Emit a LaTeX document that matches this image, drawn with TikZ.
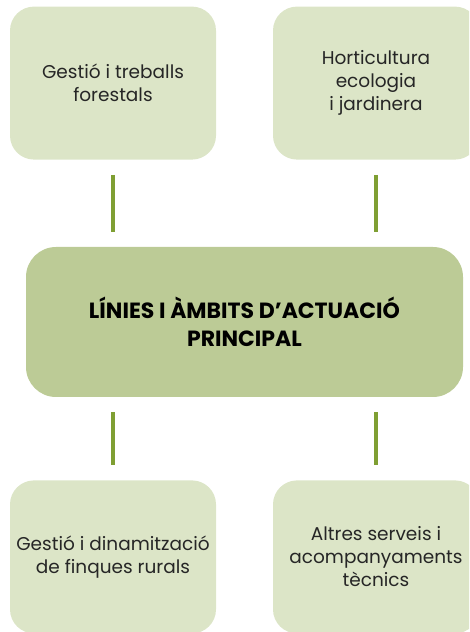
\documentclass[tikz,border=0pt]{standalone}
\usepackage{fontspec}
\setmainfont{Poppins}
\usepackage{tikz}
\usetikzlibrary{positioning}
\definecolor{leaf}{HTML}{DCE5C7}
\definecolor{moss}{HTML}{BCCB96}
\definecolor{stem}{HTML}{7F9F33}
\definecolor{ink}{HTML}{262626}
\tikzset{
  link/.style={stem, line width=4pt, shorten <=15pt, shorten >=15pt},
  box/.style={rounded corners=24pt, align=center, inner sep=0pt, text=ink},
  leafbox/.style={box, fill=leaf, minimum width=206pt, minimum height=153pt,
    font=\fontsize{18.5}{23}\selectfont},
  mainbox/.style={box, fill=moss, rounded corners=30pt, minimum width=437pt,
    minimum height=150pt, text=black, font=\bfseries\fontsize{22}{28}\selectfont}
}
\begin{document}
\begin{tikzpicture}[x=1pt, y=1pt]
  \clip (0,0) rectangle (469,632);
  \node[mainbox] (main) at (244.5,310) {LÍNIES I ÀMBITS D’ACTUACIÓ\\PRINCIPAL};
  \node[leafbox, above=87pt of main, xshift=-131.5pt] (forest) {Gestió i treballs\\forestals};
  \node[leafbox, above=87pt of main, xshift=131.5pt] (garden) {Horticultura\\ecologia\\i jardinera};
  \node[leafbox, below=83pt of main, xshift=-131.5pt] (farms) {Gestió i dinamització\\de finques rurals};
  \node[leafbox, below=83pt of main, xshift=131.5pt] (other) {Altres serveis i\\acompanyaments\\tècnics};

  \draw[link] (forest.south) -- (forest.south |- main.north);
  \draw[link] (garden.south) -- (garden.south |- main.north);
  \draw[link] (main.south -| farms.north) -- (farms.north);
  \draw[link] (main.south -| other.north) -- (other.north);
\end{tikzpicture}
\end{document}
